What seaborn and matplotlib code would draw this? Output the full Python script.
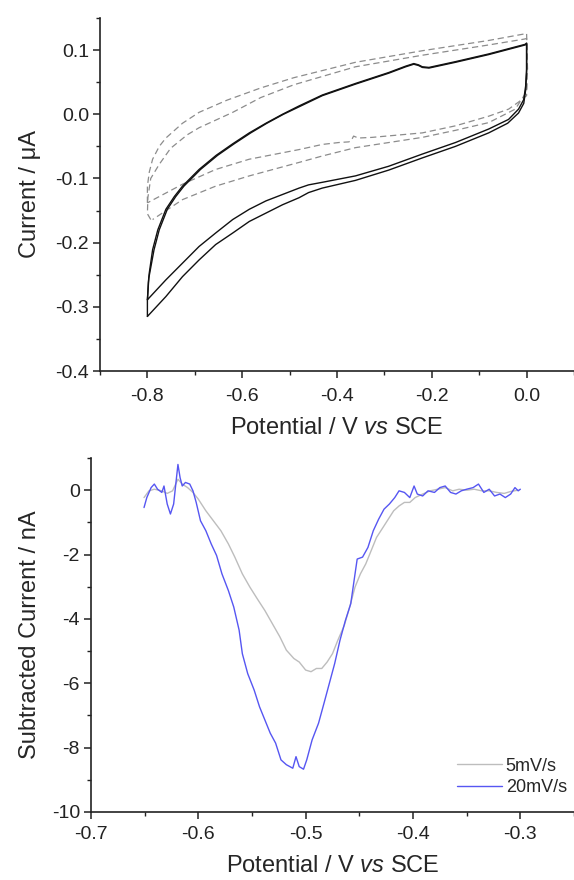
import matplotlib
matplotlib.use("Agg")
import matplotlib.pyplot as plt
import seaborn as sns
import pandas as pd
from matplotlib.ticker import MultipleLocator, FormatStrFormatter

# ---------------- Data: top panel (cyclic voltammograms) ----------------
solid1_x = [-0.8, -0.798, -0.796, -0.789, -0.778, -0.761, -0.743, -0.726, -0.691, -0.655, -0.620, -0.585,
            -0.550, -0.515, -0.480, -0.431, -0.361, -0.291, -0.255, -0.238, -0.228, -0.220, -0.206, -0.150,
            -0.080, -0.003, 0.0, 0.0, -0.002, -0.006, -0.017, -0.038, -0.080, -0.150, -0.220, -0.291,
            -0.361, -0.431, -0.46, -0.48, -0.515, -0.550, -0.585, -0.620, -0.656, -0.691, -0.726, -0.761, -0.8]
solid1_y = [-0.289, -0.262, -0.247, -0.211, -0.180, -0.148, -0.128, -0.112, -0.086, -0.064, -0.046, -0.029,
            -0.014, 0.000, 0.013, 0.030, 0.048, 0.065, 0.075, 0.079, 0.077, 0.074, 0.073, 0.082,
            0.094, 0.109, 0.111, 0.070, 0.044, 0.023, 0.008, -0.008, -0.023, -0.044, -0.062, -0.081,
            -0.096, -0.106, -0.110, -0.115, -0.125, -0.135, -0.148, -0.164, -0.185, -0.206, -0.232, -0.258, -0.289]

solid2_x = [-0.8, -0.8, -0.797, -0.786, -0.775, -0.758, -0.740, -0.723, -0.688, -0.652, -0.617, -0.582,
            -0.548, -0.513, -0.479, -0.431, -0.361, -0.291, -0.255, -0.238, -0.228, -0.220, -0.206, -0.150,
            -0.080, -0.003, 0.0, 0.0, -0.002, -0.006, -0.017, -0.040, -0.080, -0.150, -0.220, -0.291,
            -0.361, -0.431, -0.46, -0.48, -0.515, -0.550, -0.585, -0.620, -0.656, -0.691, -0.726, -0.761, -0.8]
solid2_y = [-0.315, -0.290, -0.255, -0.211, -0.180, -0.148, -0.128, -0.112, -0.086, -0.064, -0.046, -0.029,
            -0.014, 0.000, 0.012, 0.029, 0.047, 0.064, 0.074, 0.078, 0.076, 0.073, 0.072, 0.081,
            0.093, 0.108, 0.110, 0.065, 0.038, 0.017, 0.002, -0.014, -0.029, -0.050, -0.068, -0.087,
            -0.103, -0.115, -0.122, -0.130, -0.141, -0.154, -0.167, -0.185, -0.203, -0.227, -0.253, -0.284, -0.315]

dashA_x = [-0.8, -0.8, -0.796, -0.789, -0.775, -0.761, -0.726, -0.691, -0.632, -0.561, -0.491, -0.361,
           -0.220, -0.080, -0.006, 0.0, 0.001, 0.0, -0.017, -0.038, -0.080, -0.150, -0.220, -0.326,
           -0.355, -0.365, -0.370, -0.375, -0.396, -0.431, -0.480, -0.585, -0.656, -0.726, -0.8]
dashA_y = [-0.138, -0.112, -0.090, -0.070, -0.050, -0.037, -0.014, 0.003, 0.022, 0.041, 0.057, 0.081,
           0.099, 0.115, 0.125, 0.126, 0.100, 0.029, 0.019, 0.008, -0.003, -0.018, -0.029, -0.036,
           -0.037, -0.034, -0.041, -0.043, -0.044, -0.047, -0.055, -0.070, -0.086, -0.109, -0.138]

dashB_x = [-0.793, -0.8, -0.799, -0.793, -0.775, -0.751, -0.716, -0.691, -0.620, -0.561, -0.491, -0.361,
           -0.220, -0.080, -0.006, 0.0, 0.002, 0.0, -0.024, -0.080, -0.150, -0.220, -0.361, -0.431,
           -0.480, -0.585, -0.656, -0.726, -0.789]
dashB_y = [-0.164, -0.155, -0.130, -0.100, -0.078, -0.053, -0.032, -0.021, 0.003, 0.026, 0.046, 0.074,
           0.092, 0.108, 0.117, 0.118, 0.070, 0.035, 0.008, -0.013, -0.025, -0.036, -0.052, -0.065,
           -0.075, -0.096, -0.112, -0.133, -0.164]

# ---------------- Data: bottom panel (subtracted current) ----------------
slow_label = "5mV/s"
fast_label = "20mV/s"
slow_x = [-0.6506, -0.646, -0.641, -0.634, -0.629, -0.624, -0.619, -0.615, -0.610, -0.605, -0.600, -0.593,
          -0.586, -0.579, -0.572, -0.566, -0.559, -0.552, -0.545, -0.538, -0.531, -0.524, -0.518, -0.511,
          -0.506, -0.500, -0.495, -0.490, -0.485, -0.480, -0.475, -0.470, -0.464, -0.459, -0.454, -0.449,
          -0.444, -0.439, -0.434, -0.428, -0.423, -0.418, -0.413, -0.408, -0.403, -0.398, -0.391, -0.384,
          -0.377, -0.370, -0.363, -0.357, -0.350, -0.343, -0.336, -0.329, -0.322, -0.315, -0.309, -0.302]
slow_y = [-0.23, -0.02, 0.03, -0.02, -0.10, -0.02, 0.34, 0.19, 0.08, -0.07, -0.28, -0.64,
          -0.95, -1.26, -1.67, -2.08, -2.60, -3.01, -3.38, -3.74, -4.15, -4.56, -4.97, -5.23,
          -5.34, -5.59, -5.64, -5.54, -5.54, -5.34, -5.08, -4.66, -4.20, -3.63, -3.01, -2.60,
          -2.29, -1.88, -1.47, -1.16, -0.90, -0.64, -0.49, -0.38, -0.38, -0.23, -0.12, -0.02,
          0.03, 0.08, -0.02, 0.03, 0.00, 0.03, -0.02, -0.02, -0.07, -0.10, -0.04, 0.00]

fast_x = [-0.6506, -0.648, -0.644, -0.641, -0.638, -0.634, -0.632, -0.629, -0.626, -0.623, -0.621, -0.619,
          -0.617, -0.615, -0.612, -0.608, -0.605, -0.602, -0.598, -0.593, -0.588, -0.583, -0.578, -0.572,
          -0.567, -0.562, -0.559, -0.554, -0.548, -0.543, -0.538, -0.533, -0.528, -0.523, -0.518, -0.512,
          -0.509, -0.506, -0.502, -0.499, -0.494, -0.488, -0.483, -0.478, -0.473, -0.468, -0.463, -0.458,
          -0.454, -0.452, -0.447, -0.442, -0.437, -0.432, -0.427, -0.422, -0.417, -0.413, -0.408, -0.403,
          -0.399, -0.396, -0.391, -0.386, -0.380, -0.375, -0.370, -0.365, -0.360, -0.355, -0.350, -0.344,
          -0.339, -0.334, -0.329, -0.324, -0.319, -0.314, -0.309, -0.305, -0.302, -0.300]
fast_y = [-0.54, -0.23, 0.08, 0.19, 0.03, -0.07, 0.13, -0.43, -0.74, -0.43, 0.19, 0.80,
          0.39, 0.13, 0.24, 0.19, -0.02, -0.38, -0.95, -1.26, -1.67, -2.03, -2.60, -3.12,
          -3.63, -4.35, -5.08, -5.70, -6.21, -6.73, -7.14, -7.55, -7.86, -8.38, -8.53, -8.64,
          -8.28, -8.59, -8.67, -8.38, -7.76, -7.24, -6.63, -6.01, -5.39, -4.66, -4.05, -3.53,
          -2.60, -2.14, -2.08, -1.78, -1.26, -0.90, -0.59, -0.43, -0.23, -0.02, -0.07, -0.23,
          0.13, -0.12, -0.18, -0.02, -0.07, 0.08, 0.13, -0.07, -0.12, -0.02, 0.03, 0.08,
          0.19, -0.07, 0.03, -0.18, -0.12, -0.23, -0.12, 0.08, -0.02, 0.03]

# ---------------- Style ----------------
sns.set_style("ticks")
plt.rcParams["font.family"] = ["Liberation Sans", "DejaVu Sans"]
plt.rcParams["axes.unicode_minus"] = False
plt.rcParams["mathtext.fontset"] = "custom"
plt.rcParams["mathtext.rm"] = "Liberation Sans"
plt.rcParams["mathtext.it"] = "Liberation Sans:italic"

fig = plt.figure(figsize=(5.74, 8.8), dpi=100)
ax1 = fig.add_axes([100 / 574, 1 - 371 / 880, 474 / 574, 353 / 880])
ax2 = fig.add_axes([91 / 574, 1 - 812 / 880, 483 / 574, 354 / 880])

def loop_df(xs, ys):
    return pd.DataFrame({"x": xs, "y": ys})

for xs, ys in [(dashA_x, dashA_y), (dashB_x, dashB_y)]:
    sns.lineplot(data=loop_df(xs, ys), x="x", y="y", sort=False, estimator=None, ax=ax1,
                 color="#8c8c8c", lw=0.9, linestyle=(0, (5, 3)))
for xs, ys in [(solid1_x, solid1_y), (solid2_x, solid2_y)]:
    sns.lineplot(data=loop_df(xs, ys), x="x", y="y", sort=False, estimator=None, ax=ax1,
                 color="#111111", lw=1.0)

ax1.set_xlim(-0.9, 0.1)
ax1.set_ylim(-0.4, 0.15)
ax1.xaxis.set_major_locator(MultipleLocator(0.2))
ax1.xaxis.set_minor_locator(MultipleLocator(0.1))
ax1.yaxis.set_major_locator(MultipleLocator(0.1))
ax1.yaxis.set_minor_locator(MultipleLocator(0.05))
ax1.xaxis.set_major_formatter(FormatStrFormatter("%.1f"))
ax1.yaxis.set_major_formatter(FormatStrFormatter("%.1f"))
ax1.set_xlabel(r"Potential / V $\mathit{vs}$ SCE", fontsize=17, labelpad=9)
ax1.set_ylabel("Current / \u03bcA", fontsize=17, labelpad=10)

dfb = pd.concat([
    pd.DataFrame({"x": slow_x, "y": slow_y, "rate": slow_label}),
    pd.DataFrame({"x": fast_x, "y": fast_y, "rate": fast_label}),
])
sns.lineplot(data=dfb, x="x", y="y", hue="rate", sort=False, estimator=None, ax=ax2,
             palette={slow_label: "#bdbdbd", fast_label: "#5656f2"}, lw=1.0)
ax2.set_xlim(-0.7, -0.25)
ax2.set_ylim(-10, 1)
ax2.xaxis.set_major_locator(MultipleLocator(0.1))
ax2.xaxis.set_minor_locator(MultipleLocator(0.05))
ax2.yaxis.set_major_locator(MultipleLocator(2))
ax2.yaxis.set_minor_locator(MultipleLocator(1))
ax2.xaxis.set_major_formatter(FormatStrFormatter("%.1f"))
ax2.yaxis.set_major_formatter(FormatStrFormatter("%d"))
ax2.set_xlabel(r"Potential / V $\mathit{vs}$ SCE", fontsize=17, labelpad=9)
ax2.set_ylabel("Subtracted Current / nA", fontsize=17, labelpad=8)
ax2.legend(title=None, frameon=False, loc="lower right", bbox_to_anchor=(0.985, 0.045),
           fontsize=13, handlelength=2.5, handletextpad=0.2, labelspacing=0.25,
           borderpad=0, borderaxespad=0)

for ax in (ax1, ax2):
    sns.despine(ax=ax)
    for s in ("left", "bottom"):
        ax.spines[s].set_linewidth(1.2)
        ax.spines[s].set_color("#222222")
    ax.tick_params(which="major", direction="out", length=5, width=1.1, labelsize=14, pad=3,
                   colors="#222222")
    ax.tick_params(which="minor", direction="out", length=3, width=1.0, colors="#222222")
ax1.tick_params(axis="x", which="major", pad=7)
ax2.tick_params(axis="x", which="major", pad=5)

fig.savefig("out.png", dpi=100)
